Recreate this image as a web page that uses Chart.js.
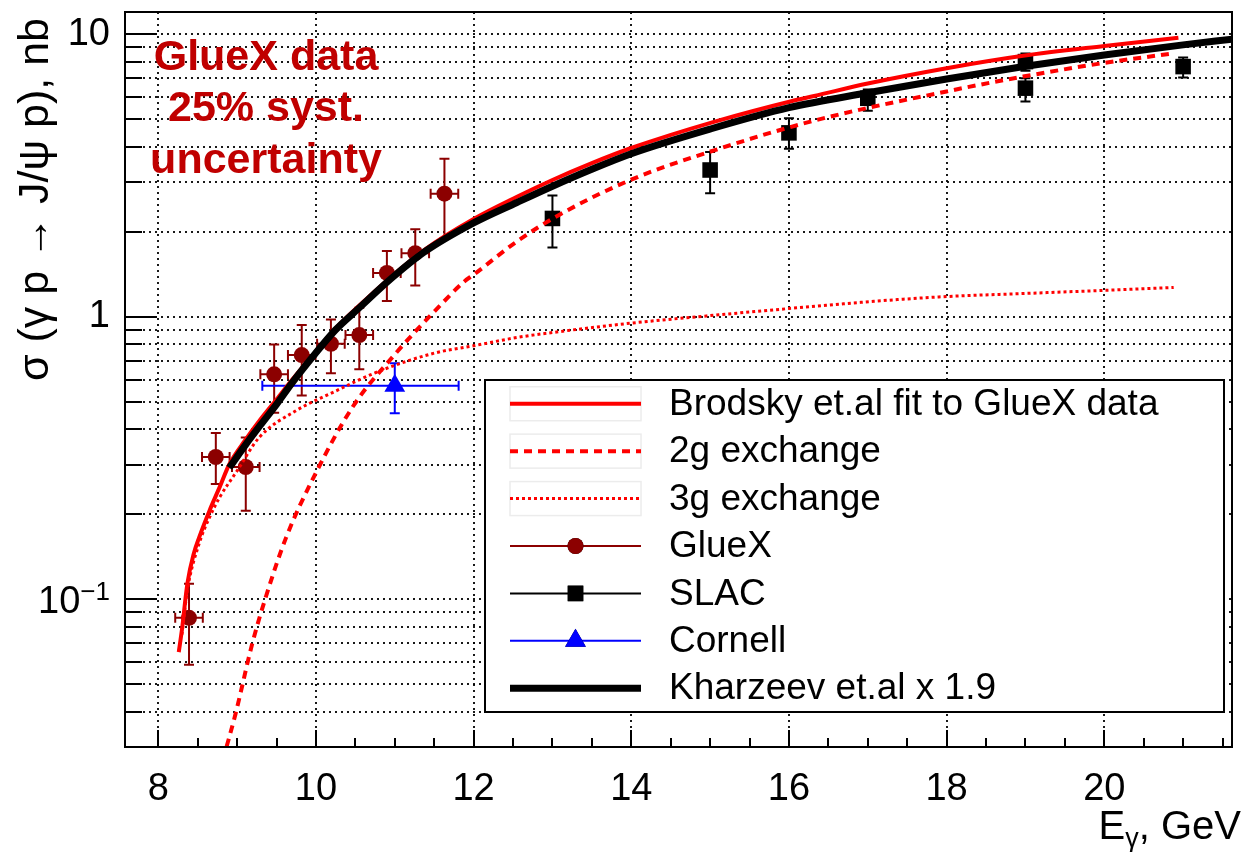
<!DOCTYPE html>
<html>
<head>
<meta charset="utf-8">
<title>J/psi photoproduction cross section</title>
<script src="https://cdn.jsdelivr.net/npm/chart.js@4.4.0/dist/chart.umd.min.js"></script>
<style>
  html, body { margin: 0; padding: 0; background: #ffffff; }
  canvas { display: block; }
</style>
</head>
<body>
<canvas id="chart" width="1244" height="852"></canvas>
<script>
// ---------- axes ----------
const xRange = [7.578, 21.62];
const yRange = [0.03, 12];
const xMajorTicks = [8, 10, 12, 14, 16, 18, 20];
const xMinorTicks = [8.5, 9, 9.5, 10.5, 11, 11.5, 12.5, 13, 13.5, 14.5, 15, 15.5, 16.5, 17, 17.5, 18.5, 19, 19.5, 20.5, 21, 21.5];
const yTicks = [0.03, 0.04, 0.05, 0.06, 0.07, 0.08, 0.09,
                0.1, 0.2, 0.3, 0.4, 0.5, 0.6, 0.7, 0.8, 0.9,
                1, 2, 3, 4, 5, 6, 7, 8, 9, 10];
const yMajorTicks = [0.1, 1, 10];
const yTickLabels = { '10': '10', '1': '1' };
const yPowerLabel = { value: 0.1, base: '10', exponent: '\u22121' };

// ---------- model curves: E_gamma (GeV) vs sigma (nb) ----------
const brodskyE = [8.26, 8.30, 8.37, 8.45, 8.52, 8.65, 8.78, 8.90, 9.10, 9.30, 9.50, 9.70, 10.00, 10.25, 10.54, 10.96, 11.38, 12.00, 12.55, 13.00, 13.50, 14.00, 15.07, 16.03, 16.32, 17.00, 18.00, 18.97, 20.00, 20.94];
const brodskyS = [0.065, 0.078, 0.114, 0.145, 0.166, 0.206, 0.25, 0.30, 0.365, 0.435, 0.51, 0.60, 0.755, 0.91, 1.09, 1.39, 1.73, 2.22, 2.66, 3.05, 3.50, 3.96, 4.92, 5.80, 6.05, 6.70, 7.59, 8.40, 9.10, 9.73];

const twoGluonE = [8.82, 8.98, 9.19, 9.36, 9.62, 9.99, 10.46, 11.00, 11.51, 11.89, 12.00, 12.55, 13.09, 14.00, 15.07, 16.32, 18.00, 18.97, 19.97, 20.88];
const twoGluonS = [0.027, 0.0393, 0.0693, 0.101, 0.165, 0.277, 0.477, 0.736, 1.05, 1.34, 1.41, 1.85, 2.30, 3.06, 3.90, 4.95, 6.28, 7.09, 7.90, 8.57];

const threeGluonE = [8.30, 8.37, 8.52, 8.65, 8.78, 9.00, 9.28, 9.74, 10.25, 10.79, 11.51, 12.00, 12.55, 13.00, 14.00, 15.00, 16.00, 17.08, 18.00, 19.00, 19.97, 20.88];
const threeGluonS = [0.075, 0.108, 0.158, 0.195, 0.23, 0.285, 0.374, 0.464, 0.546, 0.64, 0.745, 0.79, 0.845, 0.88, 0.95, 1.01, 1.07, 1.135, 1.18, 1.21, 1.24, 1.27];

const kharzeevE = [8.90, 9.10, 9.30, 9.50, 9.70, 9.99, 10.25, 10.54, 10.96, 11.38, 12.00, 12.55, 13.00, 13.50, 14.00, 15.00, 16.00, 17.00, 18.00, 19.00, 20.00, 21.00, 21.62];
const kharzeevS = [0.292, 0.35, 0.415, 0.49, 0.585, 0.74, 0.90, 1.07, 1.37, 1.70, 2.15, 2.54, 2.90, 3.33, 3.78, 4.62, 5.50, 6.21, 6.95, 7.71, 8.45, 9.18, 9.62];

// ---------- measurements ----------
const gluexE      = [8.39, 8.73, 9.11, 9.47, 9.82, 10.19, 10.55, 10.90, 11.26, 11.63];
const gluexEerr   = [0.175, 0.175, 0.175, 0.175, 0.175, 0.175, 0.175, 0.175, 0.175, 0.175];
const gluexS      = [0.086, 0.319, 0.294, 0.626, 0.732, 0.803, 0.862, 1.43, 1.68, 2.73];
const gluexSLow   = [0.0586, 0.256, 0.206, 0.458, 0.527, 0.631, 0.652, 1.137, 1.29, 1.90];
const gluexSHigh  = [0.1136, 0.388, 0.374, 0.798, 0.935, 0.979, 1.076, 1.71, 2.04, 3.63];

const slacE     = [13, 15, 16, 17, 19, 19, 21];
const slacS     = [2.23, 3.31, 4.48, 5.94, 8.01, 6.45, 7.69];
const slacSLow  = [1.76, 2.74, 3.94, 5.37, 7.44, 5.78, 7.03];
const slacSHigh = [2.69, 3.83, 5.05, 6.38, 8.55, 6.99, 8.28];

const cornellE     = [11.0];
const cornellELow  = [9.32];
const cornellEHigh = [11.81];
const cornellS     = [0.57];
const cornellSLow  = [0.456];
const cornellSHigh = [0.685];

// ---------- text ----------
const yTitle = '\u03C3 (\u03B3 p \u2192 J/\u03C8 p), nb';
const xTitleMain = 'E';
const xTitleSub = '\u03B3';
const xTitleTail = ', GeV';
const noteLines = ['GlueX data', '25% syst.', 'uncertainty'];

const FONT = "'Liberation Sans', Arial, Helvetica, sans-serif";
const DARK_RED = '#8c0000';

const zip = (xs, ys) => xs.map((x, i) => ({ x: x, y: ys[i] }));
const lowEdge = (c, e) => c.map((v, i) => v - e[i]);
const highEdge = (c, e) => c.map((v, i) => v + e[i]);

// error bars drawn under the markers
const errorBarPlugin = {
  id: 'errorBars',
  beforeDatasetsDraw(chart) {
    const { ctx, chartArea, scales } = chart;
    const xs = scales.x, ys = scales.y;
    ctx.save();
    ctx.beginPath();
    ctx.rect(chartArea.left, chartArea.top, chartArea.right - chartArea.left, chartArea.bottom - chartArea.top);
    ctx.clip();
    chart.data.datasets.forEach(ds => {
      const e = ds.errorBars;
      if (!e) return;
      ctx.strokeStyle = ds.borderColor;
      ctx.lineWidth = 2;
      const cap = 5;
      ds.data.forEach((p, k) => {
        const px = xs.getPixelForValue(p.x);
        const py = ys.getPixelForValue(p.y);
        ctx.beginPath();
        if (e.yLow) {
          const y1 = ys.getPixelForValue(e.yLow[k]);
          const y2 = ys.getPixelForValue(e.yHigh[k]);
          ctx.moveTo(px, y1); ctx.lineTo(px, y2);
          ctx.moveTo(px - cap, y1); ctx.lineTo(px + cap, y1);
          ctx.moveTo(px - cap, y2); ctx.lineTo(px + cap, y2);
        }
        if (e.xLow) {
          const x1 = xs.getPixelForValue(e.xLow[k]);
          const x2 = xs.getPixelForValue(e.xHigh[k]);
          ctx.moveTo(x1, py); ctx.lineTo(x2, py);
          ctx.moveTo(x1, py - cap); ctx.lineTo(x1, py + cap);
          ctx.moveTo(x2, py - cap); ctx.lineTo(x2, py + cap);
        }
        ctx.stroke();
      });
    });
    ctx.restore();
  }
};

// frame, inner tick marks, legend, titles and the red note
const decorPlugin = {
  id: 'decor',
  afterDatasetsDraw(chart) {
    const { ctx, chartArea: a, scales } = chart;
    const xs = scales.x, ys = scales.y;
    ctx.save();

    // tick marks pointing into the frame
    ctx.strokeStyle = '#000';
    ctx.lineWidth = 2;
    ctx.beginPath();
    yTicks.forEach(v => {
      const py = Math.round(ys.getPixelForValue(v));
      const len = yMajorTicks.includes(v) ? 32 : 17;
      ctx.moveTo(a.left, py); ctx.lineTo(a.left + len, py);
    });
    xMajorTicks.forEach(v => {
      const px = Math.round(xs.getPixelForValue(v));
      ctx.moveTo(px, a.bottom); ctx.lineTo(px, a.bottom - 17);
    });
    xMinorTicks.forEach(v => {
      const px = Math.round(xs.getPixelForValue(v));
      ctx.moveTo(px, a.bottom); ctx.lineTo(px, a.bottom - 9);
    });
    ctx.stroke();

    // frame
    ctx.lineWidth = 2;
    ctx.strokeRect(a.left, a.top, a.right - a.left, a.bottom - a.top);

    // power-of-ten label with a raised exponent
    {
      const py = ys.getPixelForValue(yPowerLabel.value);
      ctx.fillStyle = '#000';
      ctx.textBaseline = 'alphabetic';
      ctx.textAlign = 'left';
      ctx.font = '26px ' + FONT;
      const wExp = ctx.measureText(yPowerLabel.exponent).width;
      ctx.font = '38px ' + FONT;
      const wBase = ctx.measureText(yPowerLabel.base).width;
      const right = a.left - 15;
      const base = py + 13.5;
      ctx.fillText(yPowerLabel.base, right - wExp - wBase, base);
      ctx.font = '26px ' + FONT;
      ctx.fillText(yPowerLabel.exponent, right - wExp, base - 13);
    }

    // legend
    const lg = { left: 485, top: 380, right: 1224, bottom: 712 };
    ctx.fillStyle = '#fff';
    ctx.fillRect(lg.left, lg.top, lg.right - lg.left, lg.bottom - lg.top);
    ctx.strokeStyle = '#000';
    ctx.lineWidth = 2;
    ctx.strokeRect(lg.left, lg.top, lg.right - lg.left, lg.bottom - lg.top);
    const rowH = (lg.bottom - lg.top) / chart.data.datasets.length;
    const sx1 = 510, sx2 = 641, sxc = 575.5, tx = 669;
    chart.data.datasets.forEach((ds, i) => {
      const cy = lg.top + rowH * (i + 0.5);
      if (ds.showLine) {
        if (ds.legendBox) {
          ctx.strokeStyle = '#ececec';
          ctx.lineWidth = 1.5;
          ctx.setLineDash([]);
          ctx.strokeRect(sx1, cy - 17, sx2 - sx1, 34);
        }
        ctx.strokeStyle = ds.borderColor;
        ctx.lineWidth = ds.borderWidth;
        ctx.setLineDash(ds.borderDash || []);
        ctx.beginPath();
        ctx.moveTo(sx1, cy); ctx.lineTo(sx2, cy);
        ctx.stroke();
        ctx.setLineDash([]);
      } else {
        ctx.strokeStyle = ds.borderColor;
        ctx.lineWidth = 2;
        ctx.beginPath();
        ctx.moveTo(sx1, cy); ctx.lineTo(sx2, cy);
        ctx.stroke();
        Chart.helpers.drawPoint(ctx, {
          pointStyle: ds.pointStyle, radius: ds.pointRadius, rotation: 0, borderWidth: 0
        }, sxc, cy);
        ctx.fillStyle = ds.backgroundColor;
        ctx.fill();
      }
      ctx.fillStyle = '#000';
      ctx.font = '37px ' + FONT;
      ctx.textAlign = 'left';
      ctx.textBaseline = 'middle';
      ctx.fillText(ds.label, tx, cy + 1);
    });

    // y-axis title (rotated, aligned to the top end)
    ctx.save();
    ctx.translate(36, 18);
    ctx.rotate(-Math.PI / 2);
    ctx.font = '43px ' + FONT;
    ctx.fillStyle = '#000';
    ctx.textAlign = 'right';
    ctx.textBaseline = 'middle';
    ctx.fillText(yTitle, 0, 0);
    ctx.restore();

    // x-axis title, right-aligned
    ctx.fillStyle = '#000';
    ctx.textBaseline = 'alphabetic';
    ctx.textAlign = 'left';
    ctx.font = '40px ' + FONT;
    const wTail = ctx.measureText(xTitleTail).width;
    const wMain = ctx.measureText(xTitleMain).width;
    ctx.font = '27px ' + FONT;
    const wSub = ctx.measureText(xTitleSub).width;
    let xx = 1241 - wTail - wSub - wMain;
    const base = 839;
    ctx.font = '40px ' + FONT;
    ctx.fillText(xTitleMain, xx, base);
    xx += wMain;
    ctx.font = '27px ' + FONT;
    ctx.fillText(xTitleSub, xx, base + 8);
    xx += wSub;
    ctx.font = '40px ' + FONT;
    ctx.fillText(xTitleTail, xx, base);

    // red note in the upper left
    ctx.fillStyle = '#c00000';
    ctx.font = 'bold 43px ' + FONT;
    ctx.textAlign = 'center';
    ctx.textBaseline = 'alphabetic';
    const noteBase = [70, 121, 173];
    noteLines.forEach((t, i) => ctx.fillText(t, 266, noteBase[i]));

    ctx.restore();
  }
};

const gridStyle = {
  display: true,
  drawTicks: false,
  color: 'rgba(0,0,0,0.9)',
  lineWidth: 2
};

new Chart(document.getElementById('chart'), {
  type: 'scatter',
  data: {
    datasets: [
      {
        label: 'Brodsky et.al fit to GlueX data',
        data: zip(brodskyE, brodskyS),
        showLine: true, borderColor: '#ff0000', borderWidth: 4,
        pointRadius: 0, cubicInterpolationMode: 'monotone', legendBox: true, order: 3
      },
      {
        label: '2g exchange',
        data: zip(twoGluonE, twoGluonS),
        showLine: true, borderColor: '#ff0000', borderWidth: 4, borderDash: [8, 6],
        pointRadius: 0, cubicInterpolationMode: 'monotone', legendBox: true, order: 4
      },
      {
        label: '3g exchange',
        data: zip(threeGluonE, threeGluonS),
        showLine: true, borderColor: '#ff0000', borderWidth: 3, borderDash: [3, 3],
        pointRadius: 0, cubicInterpolationMode: 'monotone', legendBox: true, order: 5
      },
      {
        label: 'GlueX',
        data: zip(gluexE, gluexS),
        showLine: false, borderColor: DARK_RED, backgroundColor: DARK_RED,
        pointStyle: 'circle', pointRadius: 8, pointBorderWidth: 0, order: 6,
        errorBars: { xLow: lowEdge(gluexE, gluexEerr), xHigh: highEdge(gluexE, gluexEerr), yLow: gluexSLow, yHigh: gluexSHigh }
      },
      {
        label: 'SLAC',
        data: zip(slacE, slacS),
        showLine: false, borderColor: '#000000', backgroundColor: '#000000',
        pointStyle: 'rect', pointRadius: 11, pointBorderWidth: 0, order: 7,
        errorBars: { yLow: slacSLow, yHigh: slacSHigh }
      },
      {
        label: 'Cornell',
        data: zip(cornellE, cornellS),
        showLine: false, borderColor: '#0000ff', backgroundColor: '#0000ff',
        pointStyle: 'triangle', pointRadius: 12, pointBorderWidth: 0, order: 8,
        errorBars: { xLow: cornellELow, xHigh: cornellEHigh, yLow: cornellSLow, yHigh: cornellSHigh }
      },
      {
        label: 'Kharzeev et.al x 1.9',
        data: zip(kharzeevE, kharzeevS),
        showLine: true, borderColor: '#000000', borderWidth: 7,
        pointRadius: 0, cubicInterpolationMode: 'monotone', order: 1
      }
    ]
  },
  options: {
    responsive: false,
    animation: false,
    events: [],
    devicePixelRatio: 1,
    layout: { padding: { top: 10, right: 3, left: 0, bottom: 0 } },
    plugins: { legend: { display: false }, tooltip: { enabled: false } },
    scales: {
      x: {
        type: 'linear',
        min: xRange[0], max: xRange[1],
        afterFit: s => { s.height = 105; s.paddingLeft = 0; s.paddingRight = 0; },
        afterBuildTicks: s => { s.ticks = xMajorTicks.map(v => ({ value: v })); },
        grid: gridStyle,
        border: { display: false, dash: [2, 4] },
        ticks: {
          autoSkip: false, maxRotation: 0, padding: 20,
          color: '#000', font: { family: FONT, size: 38 },
          callback: v => String(v)
        }
      },
      y: {
        type: 'logarithmic',
        min: yRange[0], max: yRange[1],
        afterFit: s => { s.width = 125; s.paddingTop = 0; s.paddingBottom = 0; },
        afterBuildTicks: s => { s.ticks = yTicks.map(v => ({ value: v })); },
        grid: gridStyle,
        border: { display: false, dash: [2, 4] },
        ticks: {
          autoSkip: false, padding: 15,
          color: '#000', font: { family: FONT, size: 38 },
          callback: v => yTickLabels[String(Math.round(v * 1000) / 1000)] || ''
        }
      }
    }
  },
  plugins: [errorBarPlugin, decorPlugin]
});
</script>
</body>
</html>
